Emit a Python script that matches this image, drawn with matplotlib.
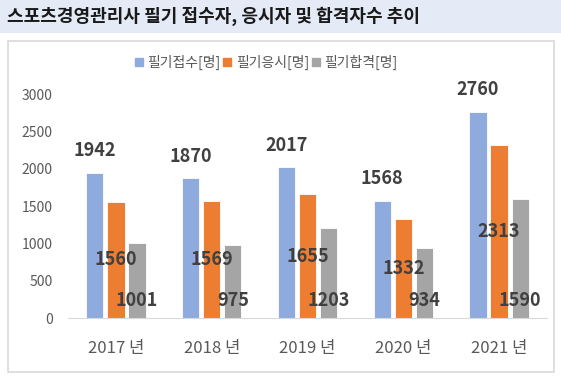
import matplotlib
matplotlib.use("Agg")
import numpy as np
import matplotlib.pyplot as plt
from matplotlib.lines import Line2D
from matplotlib.patches import Rectangle

plt.rcParams['font.family'] = ['Noto Sans CJK KR', 'DejaVu Sans']

years = ["2017 년", "2018 년", "2019 년", "2020 년", "2021 년"]
applied = [1942, 1870, 2017, 1568, 2760]
taken = [1560, 1569, 1655, 1332, 2313]
passed = [1001, 975, 1203, 934, 1590]
series_names = ["필기접수[명]", "필기응시[명]", "필기합격[명]"]
colors = ["#8FAADC", "#ED7D31", "#A5A5A5"]
title = "스포츠경영관리사 필기 접수자, 응시자 및 합격자수 추이"

W, H = 561, 379
fig = plt.figure(figsize=(W / 100, H / 100), dpi=100)

# title band + chart frame
fig.patches.append(Rectangle((0, 1 - 33 / H), 1, 33 / H, transform=fig.transFigure,
                             facecolor="#E4EBF7", edgecolor="none", zorder=0))
fig.patches.append(Rectangle((8 / W, 7 / H), 546 / W, 331 / H, transform=fig.transFigure,
                             facecolor="none", edgecolor="#D9D9D9", lw=1.2, zorder=0))
fig.text(7 / W, 1 - 16 / H, title, fontsize=13, fontweight="bold", color="#1a1a1a",
         ha="left", va="center")

ax = fig.add_axes([68 / W, 61 / H, 479 / W, 224 / H])
x = np.arange(len(years))
w = 0.18
step = 0.22
text_c = "#404040"
for i, (vals, c) in enumerate(zip([applied, taken, passed], colors)):
    bars = ax.bar(x + (i - 1) * step, vals, w, color=c, edgecolor="white", lw=0.6, zorder=2)
    for b, v in zip(bars, vals):
        cx = b.get_x() + b.get_width() / 2
        if i == 0:
            ax.annotate(str(v), (cx, v), xytext=(0, 16), textcoords="offset points",
                        ha="center", va="center", fontsize=13, fontweight="bold", color=text_c)
        elif i == 1:
            ax.text(cx, v / 2, str(v), ha="center", va="center", fontsize=13,
                    fontweight="bold", color=text_c, zorder=3)
        else:
            ax.annotate(str(v), (cx, 0), xytext=(0, 12.5), textcoords="offset points",
                        ha="center", va="center", fontsize=13, fontweight="bold",
                        color=text_c, zorder=3)

ax.set_xlim(-0.5, len(years) - 0.5)
ax.set_ylim(0, 3000)
ax.set_yticks(range(0, 3001, 500))
ax.set_xticks(x)
ax.set_xticklabels(years)
ax.tick_params(axis="y", length=0, pad=11, labelsize=10, labelcolor="#595959")
ax.tick_params(axis="x", length=0, pad=16, labelsize=12, labelcolor="#595959")
for s in ["top", "right", "left"]:
    ax.spines[s].set_visible(False)
ax.spines["bottom"].set_color("#D9D9D9")
ax.set_facecolor("none")

handles = [Line2D([], [], marker="s", linestyle="none", markersize=6,
                  markerfacecolor=c, markeredgecolor=c) for c in colors]
fig.legend(handles, series_names, loc="center", bbox_to_anchor=(266 / W, 1 - 62 / H),
           ncol=3, frameon=False, fontsize=10, labelcolor="#595959",
           handlelength=0.6, handletextpad=0.3, columnspacing=0.2, borderpad=0)

fig.savefig("out.png", dpi=100)
